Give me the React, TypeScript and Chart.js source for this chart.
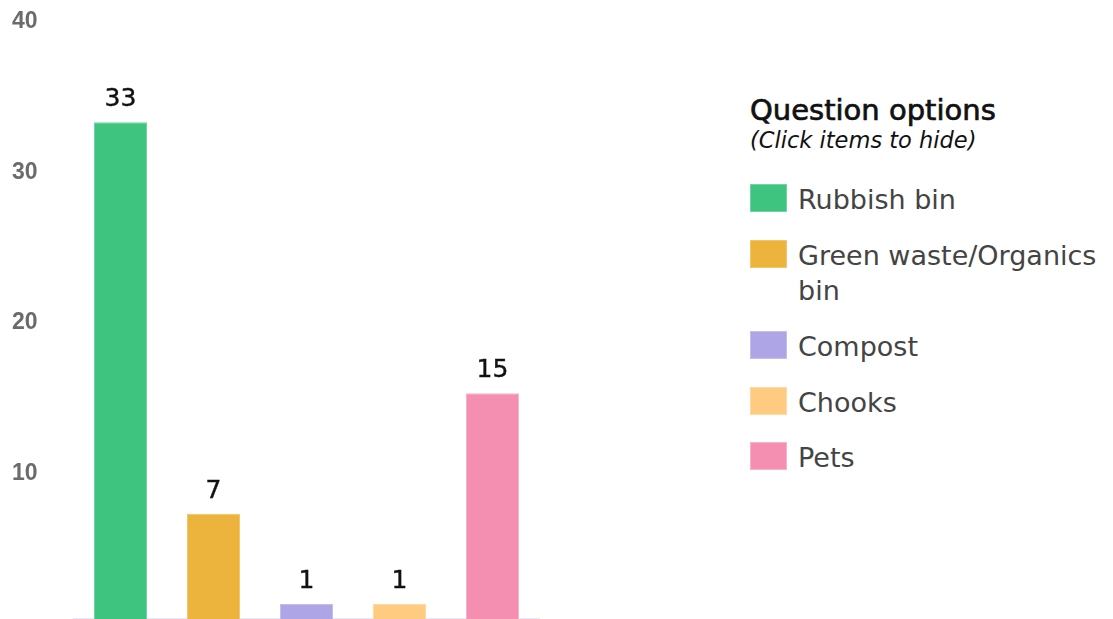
import React, { useEffect, useRef } from "react";
import { Chart, registerables } from "chart.js";

Chart.register(...registerables);

const categories = ["Rubbish bin", "Green waste/Organics bin", "Compost", "Chooks", "Pets"];
const values = [33, 7, 1, 1, 15];
const barColors = ["#3fc480", "#ecb43c", "#ada5e5", "#ffcb80", "#f48fb1"];
const borderColors = ["#6fd6a3", "#f2c66a", "#c3bdf0", "#ffd9a3", "#f8b3cb"];
const legendTitle = "Question options";
const legendSubtitle = "(Click items to hide)";

const dataLabelPlugin = {
  id: "dataLabels",
  afterDatasetsDraw(chart: any) {
    const ctx = chart.ctx;
    const meta = chart.getDatasetMeta(0);
    ctx.save();
    ctx.font = "25px 'DejaVu Sans'";
    ctx.fillStyle = "#111";
    ctx.strokeStyle = "#111";
    ctx.lineWidth = 0.4;
    ctx.textAlign = "center";
    ctx.textBaseline = "alphabetic";
    meta.data.forEach((el: any, i: number) => {
      const t = String(chart.data.datasets[0].data[i]);
      ctx.fillText(t, el.x, el.y - 16);
      ctx.strokeText(t, el.x, el.y - 16);
    });
    ctx.restore();
  },
};

export default function App() {
  const ref = useRef<HTMLCanvasElement>(null);
  useEffect(() => {
    const chart = new Chart(ref.current as HTMLCanvasElement, {
      type: "bar",
      data: {
        labels: categories,
        datasets: [
          {
            data: values,
            backgroundColor: barColors,
            borderColor: borderColors,
            borderWidth: { left: 1, right: 1, top: 1, bottom: 0 },
            categoryPercentage: 0.57,
            barPercentage: 1,
          },
        ],
      },
      options: {
        responsive: false,
        animation: false,
        layout: { padding: { left: 12, right: 21, top: 17, bottom: 0 } },
        plugins: { legend: { display: false }, tooltip: { enabled: false } },
        scales: {
          x: {
            grid: { display: false, drawTicks: false },
            border: { display: true, color: "#e9e8f6", width: 1.5 },
            ticks: { display: false, padding: 0 },
            afterFit: (s: any) => {
              s.height = 0;
            },
          },
          y: {
            min: 0,
            max: 40,
            ticks: {
              stepSize: 10,
              callback: (v: any) => (v === 0 ? "" : String(v)),
              font: { family: "'Liberation Sans', Arial", size: 23, weight: "bold" },
              color: "#6b6b6b",
              padding: 0,
              crossAlign: "far",
              labelOffset: 5,
            },
            grid: { display: false, drawTicks: false },
            border: { display: false },
            afterFit: (s: any) => {
              s.width = 62;
              s.paddingBottom = 0;
              s.paddingTop = 0;
            },
          },
        },
      },
      plugins: [dataLabelPlugin],
    } as any);
    return () => chart.destroy();
  }, []);

  const itemTops = [182, 238, 329, 385, 440];
  return (
    <div style={{ position: "absolute", left: 0, top: 0, width: 1113, height: 619, background: "#fff", overflow: "hidden" }}>
      <canvas ref={ref} width={560} height={619} style={{ position: "absolute", left: 0, top: 0, width: 560, height: 619 }} />
      <div style={{ position: "absolute", left: 750, top: 94, fontFamily: "'DejaVu Sans'", fontWeight: "normal", fontSize: 29, lineHeight: "32px", color: "#111", whiteSpace: "nowrap", WebkitTextStroke: "0.7px #111" } as any}>
        {legendTitle}
      </div>
      <div style={{ position: "absolute", left: 750, top: 127, fontFamily: "'DejaVu Sans'", fontStyle: "italic", fontSize: 22.5, lineHeight: "26px", color: "#111", whiteSpace: "nowrap" }}>
        {legendSubtitle}
      </div>
      {categories.map((c, i) => (
        <div key={c} style={{ position: "absolute", left: 750, top: itemTops[i], width: 363, display: "flex", alignItems: "flex-start" }}>
          <div style={{ width: 35, height: 26, marginTop: 2, background: barColors[i], border: `1px solid ${borderColors[i]}`, flex: "0 0 auto" }} />
          <div style={{ marginLeft: 11, width: 315, fontFamily: "'DejaVu Sans'", fontSize: 27, lineHeight: "35px", color: "#444" }}>{c}</div>
        </div>
      ))}
    </div>
  );
}
